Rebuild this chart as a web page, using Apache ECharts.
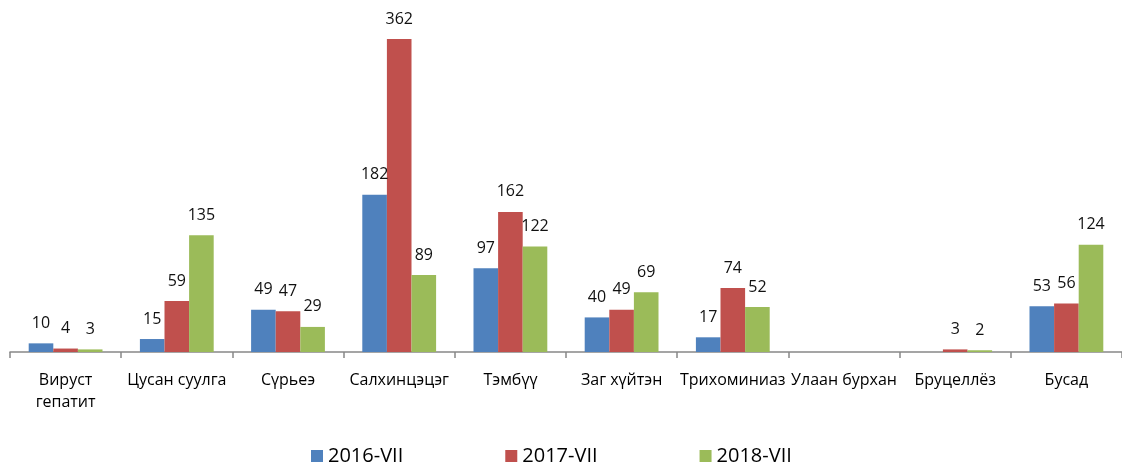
<!DOCTYPE html>
<html>
<head>
<meta charset="utf-8">
<script src="https://cdn.jsdelivr.net/npm/echarts@6/dist/echarts.min.js"></script>
<style>
html,body{margin:0;padding:0;background:#fff;}
#chart{width:1122px;height:468px;}
</style>
</head>
<body>
<div id="chart"></div>
<script>
var categories = ['Вируст\nгепатит', 'Цусан суулга', 'Сүрьеэ', 'Салхинцэцэг', 'Тэмбүү', 'Заг хүйтэн', 'Трихоминиаз', 'Улаан бурхан', 'Бруцеллёз', 'Бусад'];
var seriesNames = ['2016-VII', '2017-VII', '2018-VII'];
var v2016 = [10, 15, 49, 182, 97, 40, 17, null, null, 53];
var v2017 = [4, 59, 47, 362, 162, 49, 74, null, 3, 56];
var v2018 = [3, 135, 29, 89, 122, 69, 52, null, 2, 124];
var colors = ['#4f81bd', '#c0504d', '#9bbb59'];

var chart = echarts.init(document.getElementById('chart'));
var font = '"Open Sans", "Noto Sans", sans-serif';

function mk(name, data, i) {
	return {
		name: name,
		type: 'bar',
		data: data,
		barWidth: 24.6,
		barGap: '0%',
		itemStyle: {color: colors[i]},
		label: {
			show: true,
			position: 'top',
			distance: 12,
			color: '#111',
			fontSize: 16,
			fontFamily: font
		}
	};
}

chart.setOption({
	animation: false,
	grid: {left: 10, top: 39, width: 1120, height: 313},
	legend: {
		left: 306,
		bottom: -3,
		itemWidth: 12,
		itemHeight: 12,
		itemGap: 102,
		icon: 'rect',
		textStyle: {fontSize: 20, color: '#000', fontFamily: font},
		data: seriesNames
	},
	xAxis: {
		type: 'category',
		data: categories,
		axisLine: {lineStyle: {color: '#888', width: 1.5}},
		axisTick: {show: true, length: 6, lineStyle: {color: '#888', width: 1.5}},
		axisLabel: {
			interval: 0,
			margin: 17,
			fontSize: 16,
			lineHeight: 22,
			color: '#000',
			fontFamily: font
		}
	},
	yAxis: {
		type: 'value',
		min: 0,
		max: 362,
		show: false
	},
	series: [mk(seriesNames[0], v2016, 0), mk(seriesNames[1], v2017, 1), mk(seriesNames[2], v2018, 2)]
});
</script>
</body>
</html>
